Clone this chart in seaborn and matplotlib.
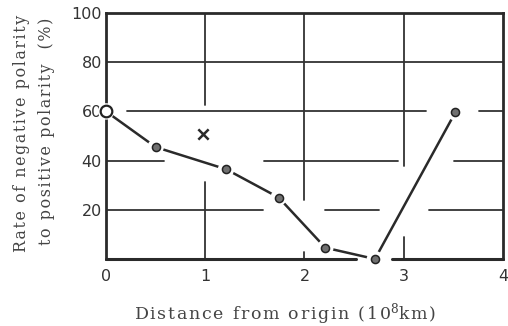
import matplotlib
matplotlib.use("Agg")
import matplotlib.pyplot as plt
import seaborn as sns
import pandas as pd

# ---- data ----
distance = [0.0, 0.5, 1.21, 1.74, 2.21, 2.71, 3.52]
rate = [60.0, 45.5, 36.5, 25.0, 4.6, 0.0, 59.6]
open_point_x = [0.0]
open_point_y = [60.0]
cross_x = [0.98]
cross_y = [51.0]
x_ticks = [0, 1, 2, 3, 4]
y_ticks = [20, 40, 60, 80, 100]
y_label_1 = "Rate of negative polarity"
y_label_2 = "to positive polarity  (%)"
x_label_a = "Distance from origin (10"
x_label_b = "km)"

df = pd.DataFrame({"distance": distance, "rate": rate})

sns.set_theme(style="white")
plt.rcParams["mathtext.fontset"] = "dejavuserif"


def spaced(s):
    return "\u200a".join(s)


fig = plt.figure(figsize=(5.08, 3.26), dpi=100)
ax = fig.add_axes([0.2087, 0.2055, 0.7813, 0.7545])

ink = "#2a2a2a"
grid_c = "#333333"

# broken grid lines (layout styling of the scan)
h_segments = {
    80: [(0, 4)],
    60: [(0.21, 3.22), (3.76, 4)],
    40: [(0, 0.58), (1.59, 2.94), (3.51, 4)],
    20: [(0, 1.58), (2.21, 2.75), (3.26, 4)],
}
v_segments = {
    1: [(62.6, 100), (0, 31.4)],
    2: [(24, 100), (0, 3)],
    3: [(38, 100), (0, 9)],
}
for yv, segs in h_segments.items():
    for a, b in segs:
        ax.plot([a, b], [yv, yv], color=grid_c, lw=1.3, zorder=1)
for xv, segs in v_segments.items():
    for a, b in segs:
        ax.plot([xv, xv], [a, b], color=grid_c, lw=1.3, zorder=1)

# bottom frame with the gap around the bottom point
for a, b in [(0, 2.52), (2.88, 4)]:
    ax.plot([a, b], [0, 0], color=ink, lw=2.2, zorder=2, clip_on=False)

sns.lineplot(data=df, x="distance", y="rate", ax=ax, color=ink, lw=1.8,
             zorder=3, sort=False)

# white halos produce gaps between line and markers
sns.scatterplot(data=df, x="distance", y="rate", ax=ax, s=140, color="white",
                edgecolor="none", zorder=4, clip_on=False)
sns.scatterplot(data=df.iloc[1:], x="distance", y="rate", ax=ax, s=34,
                color="#707070", edgecolor="#222222", linewidth=1.1,
                zorder=5, clip_on=False)
sns.scatterplot(x=open_point_x, y=open_point_y, ax=ax, s=70, color="white",
                edgecolor="#222222", linewidth=1.6, zorder=6, clip_on=False)
sns.scatterplot(x=cross_x, y=cross_y, ax=ax, s=55, marker="x", color=ink,
                linewidth=1.8, zorder=5)

ax.set_xlim(0, 4)
ax.set_ylim(0, 100)
ax.set_xticks(x_ticks)
ax.set_yticks(y_ticks)
ax.set_xticklabels([str(t) for t in x_ticks])
ax.set_yticklabels([str(t) for t in y_ticks])
ax.tick_params(axis="both", length=0, labelsize=11.5, colors="#333333")
ax.tick_params(axis="y", pad=3)
ax.tick_params(axis="x", pad=7)
ax.set_xlabel("")
ax.set_ylabel("")

for side in ["top", "left", "right"]:
    ax.spines[side].set_color(ink)
    ax.spines[side].set_linewidth(2.0)
ax.spines["bottom"].set_visible(False)

serif = ["DejaVu Serif"]
fig.text(22 / 508, 0.592, spaced(y_label_1), rotation=90, ha="center",
         va="center", fontsize=11.4, family=serif, color="#444444")
fig.text(47 / 508, 0.597, spaced(y_label_2), rotation=90, ha="center",
         va="center", fontsize=11.4, family=serif, color="#444444")
fig.text(0.561, 0.038, spaced(x_label_a) + r"$^{8}$" + spaced(x_label_b),
         ha="center", va="center", fontsize=12.5, family=serif,
         color="#444444")

fig.savefig("out.png", dpi=100)
